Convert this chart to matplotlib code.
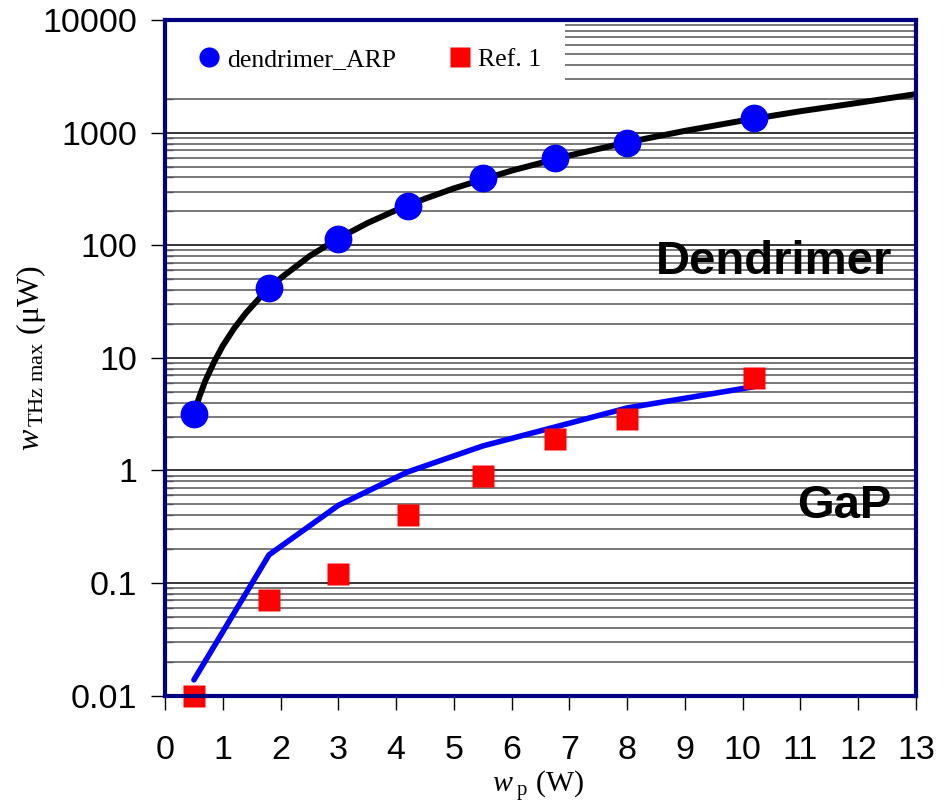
import numpy as np
import matplotlib
matplotlib.use("Agg")
import matplotlib.pyplot as plt
from matplotlib.lines import Line2D
from matplotlib.patches import Rectangle
from matplotlib.ticker import LogLocator, NullFormatter

plt.rcParams['font.family'] = ['Liberation Sans', 'DejaVu Sans']
plt.rcParams['mathtext.fontset'] = 'custom'
plt.rcParams['mathtext.rm'] = 'Liberation Serif'
plt.rcParams['mathtext.it'] = 'Liberation Serif:italic'

# pump power (W)
wp = [0.5, 1.8, 3.0, 4.2, 5.5, 6.75, 8.0, 10.2]
# measured THz power (uW)
dendrimer = [3.2, 42, 114, 223, 396, 596, 811, 1350]
ref1 = [0.01, 0.071, 0.12, 0.40, 0.89, 1.9, 2.87, 6.6]
# GaP calculated curve (blue line)
gap_line = [0.0138, 0.178, 0.49, 0.97, 1.65, 2.43, 3.59, 5.55]
# dendrimer fit curve (black line)
fit_x = [0.5, 0.6, 0.7, 0.85, 1.0, 1.2, 1.4, 1.7, 2.0, 2.5, 3.0, 3.5, 4.0, 4.5, 5.0,
         6.0, 7.0, 8.0, 9.0, 10.0, 11.0, 12.0, 13.0]
fit_y = [3.2, 4.6, 6.3, 9.2, 12.8, 18.4, 25, 37, 51, 80, 115, 157, 205, 259, 320,
         460, 627, 820, 1037, 1280, 1550, 1840, 2200]

yticks = [0.01, 0.1, 1, 10, 100, 1000, 10000]
ytick_labels = ['0.01', '0.1', '1', '10', '100', '1000', '10000']
xticks = list(range(0, 14))

navy = '#000080'

fig = plt.figure(figsize=(9.49, 8.02), dpi=100)
ax = fig.add_axes([0.1739, 0.1326, 0.7913, 0.8424])

ax.plot(fit_x, fit_y, color='black', lw=4.3, zorder=3, solid_capstyle='round',
        solid_joinstyle='round')
ax.plot(wp, gap_line, color='#0000ff', lw=4.0, zorder=3, solid_capstyle='round')
ax.plot(wp, dendrimer, 'o', color='#0000ff', ms=20, mec='none', zorder=4)
ax.plot(wp, ref1, 's', color='#ff0000', ms=16, mec='none', zorder=4, clip_on=False)

ax.set_yscale('log')
ax.set_ylim(0.01, 10000)
ax.set_xlim(0, 13)
ax.set_yticks(yticks)
ax.set_yticklabels(ytick_labels)
ax.yaxis.set_minor_locator(LogLocator(base=10, subs=np.arange(2, 10)))
ax.yaxis.set_minor_formatter(NullFormatter())
ax.set_xticks(xticks)

ax.set_axisbelow(True)
ax.grid(True, axis='y', which='major', color='black', lw=1.1)
ax.grid(True, axis='y', which='minor', color='#555555', lw=1.1)

ax.tick_params(axis='both', which='major', labelsize=24.5, direction='out', length=10, width=1)
ax.tick_params(axis='x', which='major', pad=18)
ax.tick_params(axis='y', which='major', pad=10)
ax.tick_params(axis='y', which='minor', direction='in', length=6, width=1, color='#555555')

for sp in ax.spines.values():
    sp.set_color(navy)
    sp.set_linewidth(3)
    sp.set_zorder(5)

# white box behind legend hides grid lines there
ax.add_patch(Rectangle((0, 0.888), 0.533, 0.112, transform=ax.transAxes,
                       facecolor='white', edgecolor='none', zorder=1))
handles = [Line2D([], [], marker='o', ls='none', color='#0000ff', ms=14.5, mec='none'),
           Line2D([], [], marker='s', ls='none', color='#ff0000', ms=14.5, mec='none')]
ax.legend(handles, ['dendrimer_ARP', 'Ref. 1'], loc='center left',
          bbox_to_anchor=(0.024, 0.942), ncol=2, frameon=False, borderpad=0,
          handlelength=1.0, handletextpad=0.2, columnspacing=2.0,
          prop={'family': 'Liberation Serif', 'size': 18.5})

ax.text(0.969, 0.642, 'Dendrimer', transform=ax.transAxes, ha='right', va='center',
        fontsize=34, fontweight='bold', zorder=6)
ax.text(0.967, 0.28, 'GaP', transform=ax.transAxes, ha='right', va='center',
        fontsize=34, fontweight='bold', zorder=6)

ax.set_xlabel(r'$w_{\ \mathrm{p}}$ (W)', fontsize=21.5, family='Liberation Serif')
ax.xaxis.set_label_coords(0.497, -0.108)
ax.set_ylabel(r'$w_{\,\mathrm{THz\ max}}$ (μW)', fontsize=23, family='Liberation Serif')
ax.yaxis.set_label_coords(-0.156, 0.50)

fig.savefig('out.png', dpi=100)
